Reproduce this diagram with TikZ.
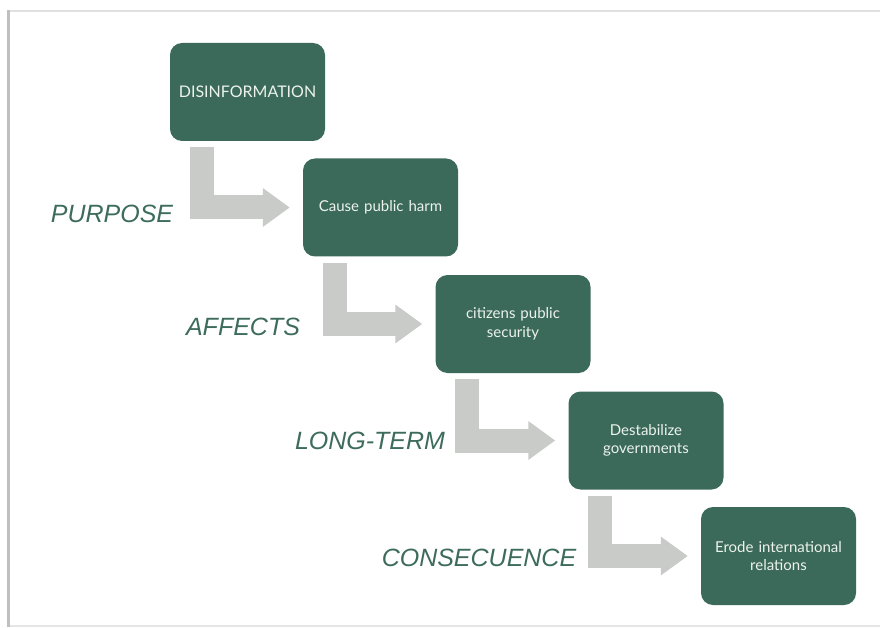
\documentclass[tikz,border=0pt]{standalone}
\usepackage{fontspec}
\setmainfont{Lato}
\newfontfamily\labelfont{Liberation Sans}
\usetikzlibrary{arrows.meta,calc}
\definecolor{boxgreen}{RGB}{60,106,90}
\definecolor{boxtext}{RGB}{236,242,238}
\definecolor{arrowgray}{RGB}{201,203,201}
\definecolor{labelgreen}{RGB}{62,108,92}
\tikzset{
  stepbox/.style={fill=boxgreen, draw=none, rounded corners=12pt,
    minimum width=155pt, minimum height=98pt, inner sep=0pt,
    text width=145pt, align=center, text=boxtext,
    font=\fontsize{15}{18.5}\selectfont},
  bentarrow/.style={draw=arrowgray, line width=24pt, line join=miter,
    -{Triangle[width=37pt,length=27pt]}, shorten >=13pt},
  steplabel/.style={text=labelgreen, inner sep=0pt,
    font=\labelfont\fontsize{25}{25}\selectfont\itshape}
}
\begin{document}
\begin{tikzpicture}[x=1pt,y=-1pt]
  \useasboundingbox (0,0) rectangle (880,628);
  \fill[white] (0,0) rectangle (880,628);
  % slide frame
  \draw[black!12, line width=2.5pt] (9,11) -- (882,11);
  \draw[black!10, line width=1.5pt] (9,626) -- (882,626);
  \draw[black!25, line width=3pt] (8.5,10) -- (8.5,627);

  % boxes
  \node[stepbox] (b1) at (247.5, 92) {\fontsize{16}{18}\selectfont DISINFORMATION};
  \node[stepbox] (b2) at (380.5, 207.5) {Cause public harm};
  \node[stepbox] (b3) at (513, 324) {citizens public\\security};
  \node[stepbox] (b4) at (646, 440.5) {Destabilize\\governments};
  \node[stepbox] (b5) at (778.5, 556) {Erode international\\relations};

  % bent connectors
  \foreach \s/\t in {b1/b2, b2/b3, b3/b4, b4/b5}{
    \draw[bentarrow] ($(\s.south west)+(32,6)$) |- (\t.west);
  }

  % labels
  \node[steplabel] (l1) at (112, 214) {PURPOSE};
  \node[steplabel] (l2) at (243, 327) {AFFECTS};
  \node[steplabel] (l3) at (370, 441) {LONG-TERM};
  \node[steplabel] (l4) at (479, 558) {CONSECUENCE};
\end{tikzpicture}
\end{document}
